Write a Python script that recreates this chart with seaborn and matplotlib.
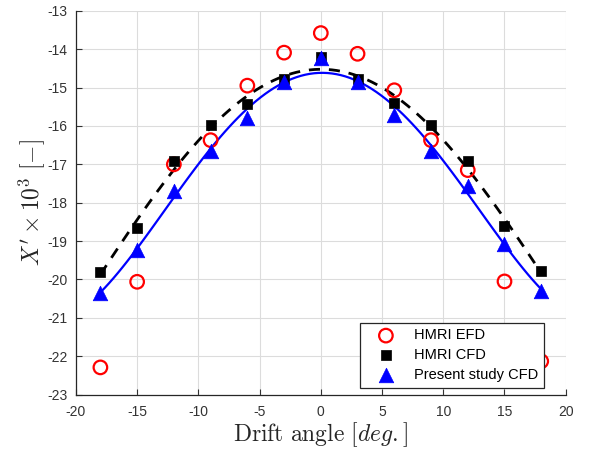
import numpy as np
import pandas as pd
import matplotlib
matplotlib.use("Agg")
import matplotlib.pyplot as plt
import seaborn as sns

# Drift angle sweep [deg]
drift_angle = [-18, -15, -12, -9, -6, -3, 0, 3, 6, 9, 12, 15, 18]

# X' x 10^3 for each data source
hmri_efd = [-22.29, -20.06, -17.00, -16.37, -14.95, -14.09, -13.58,
            -14.12, -15.07, -16.37, -17.15, -20.05, -22.13]
hmri_cfd = [-19.81, -18.67, -16.90, -15.98, -15.44, -14.78, -14.20,
            -14.78, -15.41, -15.98, -16.90, -18.61, -19.78]
present_cfd = [-20.34, -19.23, -17.70, -16.65, -15.80, -14.85, -14.23,
               -14.85, -15.72, -16.64, -17.56, -19.08, -20.29]

x_ticks = [-20, -15, -10, -5, 0, 5, 10, 15, 20]
y_ticks = [-23, -22, -21, -20, -19, -18, -17, -16, -15, -14, -13]

df = pd.DataFrame({
    "beta": drift_angle,
    "efd": hmri_efd,
    "cfd": hmri_cfd,
    "present": present_cfd,
})

plt.rcParams["mathtext.fontset"] = "cm"
plt.rcParams["axes.unicode_minus"] = False
plt.rcParams["font.family"] = ["Liberation Sans", "DejaVu Sans"]

fig = plt.figure(figsize=(5.93, 4.5), dpi=100)
ax = fig.add_axes([0.128, 0.123, 0.826, 0.853])

# polynomial trend lines through the CFD results
sns.regplot(data=df, x="beta", y="cfd", order=4, ci=None, scatter=False,
            ax=ax, line_kws=dict(color="black", lw=2.0, ls=(0, (4, 3.2))))
sns.regplot(data=df, x="beta", y="present", order=4, ci=None, scatter=False,
            ax=ax, line_kws=dict(color="#0000ff", lw=1.6))

sns.scatterplot(data=df, x="beta", y="efd", ax=ax, marker="o", s=95,
                facecolor="none", edgecolor="#ff0000", linewidth=1.6,
                label="HMRI EFD", zorder=4)
sns.scatterplot(data=df, x="beta", y="cfd", ax=ax, marker="s", s=55,
                color="black", edgecolor="black", linewidth=0.5,
                label="HMRI CFD", zorder=5)
sns.scatterplot(data=df, x="beta", y="present", ax=ax, marker="^", s=110,
                color="#0000ff", edgecolor="#0000ff", linewidth=0.5,
                label="Present study CFD", zorder=6)

ax.set_xlim(-20, 20)
ax.set_ylim(-23, -13)
ax.set_xticks(x_ticks)
ax.set_yticks(y_ticks)
ax.grid(True, color="#dcdcdc", lw=0.8)
ax.set_axisbelow(True)

for side in ("top", "right"):
    ax.spines[side].set_visible(False)
for side in ("left", "bottom"):
    ax.spines[side].set_color("#262626")
    ax.spines[side].set_linewidth(0.9)
ax.tick_params(direction="in", length=4, width=0.8, colors="#333333",
               labelsize=10)
ax.tick_params(axis="x", pad=7.5)
ax.tick_params(axis="y", pad=6)

ax.set_xlabel(r"$\mathrm{Drift\ angle}\ [deg.]$", fontsize=17,
              color="#262626", labelpad=1)
ax.set_ylabel(r"$X' \times 10^3\ [-]$", fontsize=17, color="#262626",
              labelpad=0)

leg = ax.legend(loc="lower right", bbox_to_anchor=(0.955, 0.0175),
                fontsize=10.5, frameon=True, fancybox=False,
                edgecolor="#262626", framealpha=1, borderpad=0.4,
                labelspacing=0.4, handlelength=2.8, handletextpad=0.5,
                borderaxespad=0)
leg.get_frame().set_linewidth(0.9)

fig.savefig("out.png", dpi=100)
